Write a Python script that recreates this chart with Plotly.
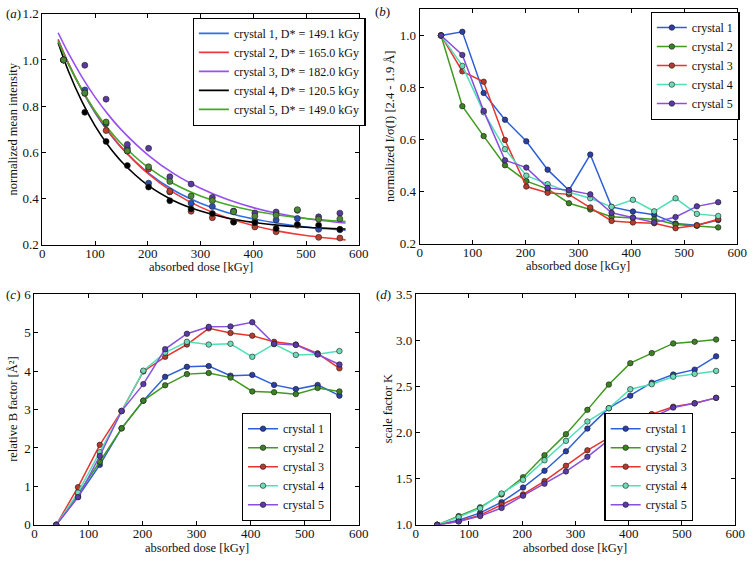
import plotly.graph_objects as go

W, H = 755, 564

# ---------------- data ----------------
dose = [40.3, 80.6, 120.9, 161.2, 201.5, 241.8, 282.1, 322.4, 362.7, 403.0, 443.3, 483.6, 523.9, 564.2]
crystals = ["crystal 1", "crystal 2", "crystal 3", "crystal 4", "crystal 5"]

# (a) normalized mean intensity (points)
int_c1 = [1.0, 0.870, 0.724, 0.617, 0.466, 0.428, 0.379, 0.365, 0.343, 0.300, 0.306, 0.313, 0.266, 0.264]
int_c2 = [1.0, 0.855, 0.694, 0.605, 0.527, 0.431, 0.344, 0.316, 0.300, 0.276, 0.255, 0.283, 0.231, 0.228]
int_c3 = [1.0, 0.977, 0.830, 0.634, 0.617, 0.494, 0.462, 0.404, 0.345, 0.337, 0.341, 0.348, 0.320, 0.336]
int_c4 = [1.0, 0.773, 0.647, 0.542, 0.449, 0.390, 0.354, 0.334, 0.297, 0.294, 0.269, 0.287, 0.284, 0.266]
int_c5 = [1.0, 0.857, 0.731, 0.606, 0.537, 0.473, 0.410, 0.390, 0.342, 0.323, 0.327, 0.351, 0.310, 0.311]

# (a) fitted decay curves
fit_dose = [30, 50, 75, 100, 125, 150, 200, 250, 300, 350, 400, 450, 500, 575]
fit_c1 = [1.090, 0.983, 0.869, 0.771, 0.689, 0.620, 0.512, 0.434, 0.379, 0.339, 0.311, 0.291, 0.276, 0.262]
fit_c2 = [1.085, 0.983, 0.871, 0.775, 0.692, 0.621, 0.508, 0.424, 0.362, 0.316, 0.282, 0.257, 0.239, 0.220]
fit_c3 = [1.118, 1.027, 0.927, 0.839, 0.763, 0.697, 0.589, 0.506, 0.444, 0.396, 0.360, 0.333, 0.313, 0.293]
fit_c4 = [1.075, 0.949, 0.820, 0.714, 0.629, 0.560, 0.457, 0.389, 0.345, 0.315, 0.296, 0.283, 0.275, 0.267]
fit_c5 = [1.080, 0.979, 0.871, 0.779, 0.702, 0.637, 0.535, 0.462, 0.410, 0.373, 0.346, 0.327, 0.313, 0.300]
dstar = ["149.1", "165.0", "182.0", "120.5", "149.0"]

# (b) normalized I/sigma(I)
isig_c1 = [1.0, 1.014, 0.779, 0.676, 0.593, 0.484, 0.405, 0.542, 0.341, 0.323, 0.311, 0.277, 0.270, 0.290]
isig_c2 = [1.0, 0.728, 0.613, 0.501, 0.440, 0.410, 0.355, 0.331, 0.303, 0.299, 0.293, 0.273, 0.268, 0.262]
isig_c3 = [1.0, 0.862, 0.822, 0.598, 0.419, 0.395, 0.389, 0.339, 0.287, 0.281, 0.278, 0.259, 0.270, 0.293]
isig_c4 = [1.0, 0.883, 0.705, 0.563, 0.461, 0.428, 0.397, 0.374, 0.341, 0.368, 0.324, 0.374, 0.314, 0.306]
isig_c5 = [1.0, 0.925, 0.710, 0.520, 0.492, 0.414, 0.405, 0.389, 0.318, 0.300, 0.281, 0.302, 0.343, 0.359]

# (c) relative B factor
bfac_c1 = [0.0, 0.73, 1.56, 2.51, 3.23, 3.85, 4.11, 4.13, 3.88, 3.90, 3.64, 3.53, 3.64, 3.36]
bfac_c2 = [0.0, 0.80, 1.64, 2.51, 3.23, 3.63, 3.92, 3.95, 3.83, 3.47, 3.45, 3.40, 3.56, 3.47]
bfac_c3 = [0.0, 0.98, 2.08, 2.96, 3.99, 4.37, 4.69, 5.11, 4.99, 4.92, 4.76, 4.69, 4.46, 4.07]
bfac_c4 = [0.0, 0.84, 1.89, 2.96, 4.01, 4.48, 4.76, 4.69, 4.71, 4.37, 4.70, 4.42, 4.44, 4.52]
bfac_c5 = [0.0, 0.72, 1.79, 2.96, 3.66, 4.57, 4.97, 5.15, 5.16, 5.27, 4.71, 4.68, 4.43, 4.17]

# (d) scale factor K
scale_c1 = [1.0, 1.050, 1.130, 1.246, 1.404, 1.586, 1.797, 2.043, 2.264, 2.400, 2.541, 2.629, 2.682, 2.826]
scale_c2 = [1.0, 1.095, 1.190, 1.330, 1.516, 1.755, 1.983, 2.246, 2.520, 2.752, 2.861, 2.966, 2.984, 3.008]
scale_c3 = [1.0, 1.040, 1.105, 1.218, 1.330, 1.474, 1.640, 1.808, 1.945, 2.085, 2.200, 2.280, 2.317, 2.376]
scale_c4 = [1.0, 1.085, 1.180, 1.340, 1.488, 1.700, 1.910, 2.120, 2.264, 2.470, 2.524, 2.605, 2.636, 2.668]
scale_c5 = [1.0, 1.035, 1.095, 1.183, 1.316, 1.446, 1.579, 1.737, 1.920, 2.032, 2.159, 2.271, 2.317, 2.376]

# ---------------- style ----------------
line_cols = ["#2f5fd8", "#3f9a1f", "#e8342c", "#4fe0b8", "#8a4fe0"]
mark_cols = ["#2a3fa8", "#3c8222", "#b83a2c", "#6fdcb8", "#5a3aa8"]
a_line = ["#2f6fe8", "#ee3a3a", "#9a4ff0", "#000000", "#46a82a"]
a_mark = ["#2a4fb0", "#b8402e", "#5a3aa0", "#000000", "#4a8a34"]

FONT = "Liberation Serif"
TXT = "#111111"

def px_dom_x(x0, x1):
    return [x0 / W, x1 / W]

def px_dom_y(y0, y1):
    return [1 - y1 / H, 1 - y0 / H]

fig = go.Figure()

pts_a = [int_c1, int_c2, int_c3, int_c4, int_c5]
fits_a = [fit_c1, fit_c2, fit_c3, fit_c4, fit_c5]
for i in range(5):
    fig.add_trace(go.Scatter(
        x=fit_dose, y=fits_a[i], mode="lines", line=dict(color=a_line[i], width=1.6, shape="spline"),
        name=f"crystal {i+1}, D* = {dstar[i]} kGy", xaxis="x", yaxis="y", legend="legend"))
for i in range(5):
    fig.add_trace(go.Scatter(
        x=dose, y=pts_a[i], mode="markers",
        marker=dict(color=a_mark[i], size=6, line=dict(color="#222222", width=0.6)),
        showlegend=False, xaxis="x", yaxis="y"))

def add_panel(series, xa, ya, leg):
    for i in range(5):
        fig.add_trace(go.Scatter(
            x=dose, y=series[i], mode="lines+markers",
            line=dict(color=line_cols[i], width=1.5),
            marker=dict(color=mark_cols[i], size=5.5, line=dict(color="#1a1a1a", width=0.6)),
            name=crystals[i], xaxis=xa, yaxis=ya, legend=leg))

add_panel([isig_c1, isig_c2, isig_c3, isig_c4, isig_c5], "x2", "y2", "legend2")
add_panel([bfac_c1, bfac_c2, bfac_c3, bfac_c4, bfac_c5], "x3", "y3", "legend3")
add_panel([scale_c1, scale_c2, scale_c3, scale_c4, scale_c5], "x4", "y4", "legend4")

tickfont = dict(family=FONT, size=13, color=TXT)

def xax(dom, anchor):
    return dict(domain=dom, anchor=anchor, range=[0, 600], tickvals=[0, 100, 200, 300, 400, 500, 600],
                ticks="inside", ticklen=4, tickcolor="#000", showline=True, linecolor="#000", linewidth=1,
                mirror="ticks", showgrid=False, zeroline=False, tickfont=tickfont,
                ticklabelstandoff=-3)

def yax(dom, anchor, rng, tv, fmt):
    return dict(domain=dom, anchor=anchor, range=rng, tickvals=tv, tickformat=fmt,
                ticks="inside", ticklen=4, tickcolor="#000", showline=True, linecolor="#000", linewidth=1,
                mirror="ticks", showgrid=False, zeroline=False, tickfont=tickfont,
                ticklabelstandoff=0)

dA = (px_dom_x(40, 362), px_dom_y(7, 244))
dB = (px_dom_x(424, 747), px_dom_y(2.5, 243))
dC = (px_dom_x(32, 362), px_dom_y(295, 532))
dD = (px_dom_x(420, 745), px_dom_y(295, 532))

def legend_box(x0, y0, anchor="top"):
    return dict(x=x0 / W, y=1 - y0 / H, xanchor="left", yanchor=anchor,
                bgcolor="white", bordercolor="#000", borderwidth=1.2,
                font=dict(family=FONT, size=12, color=TXT),
                tracegroupgap=0, itemwidth=30)

fig.update_layout(
    width=W, height=H, margin=dict(l=0, r=0, t=0, b=0),
    paper_bgcolor="white", plot_bgcolor="white",
    xaxis=xax(dA[0], "y"), yaxis=yax(dA[1], "x", [0.2, 1.2], [0.2, 0.4, 0.6, 0.8, 1.0, 1.2], ".1f"),
    xaxis2=xax(dB[0], "y2"), yaxis2=yax(dB[1], "x2", [0.2, 1.1], [0.2, 0.4, 0.6, 0.8, 1.0], ".1f"),
    xaxis3=xax(dC[0], "y3"), yaxis3=yax(dC[1], "x3", [0, 6], [0, 1, 2, 3, 4, 5, 6], "d"),
    xaxis4=xax(dD[0], "y4"), yaxis4=yax(dD[1], "x4", [1.0, 3.5], [1.0, 1.5, 2.0, 2.5, 3.0, 3.5], ".1f"),
    legend=legend_box(193, 11),
    legend2=legend_box(659, 5),
    legend3=legend_box(243, 528, "bottom"),
    legend4=legend_box(612, 528, "bottom"),
    showlegend=True,
)

def ann(text, x, y, angle=0, xanchor="center", size=12.5):
    fig.add_annotation(text=text, x=x / W, y=1 - y / H, xref="paper", yref="paper",
                       xanchor=xanchor, yanchor="middle", showarrow=False, textangle=angle,
                       font=dict(family=FONT, size=size, color=TXT))

# panel labels
ann("(<i>a</i>)", 1, 7, xanchor="left", size=13)
ann("(<i>b</i>)", 376, 5, xanchor="left", size=13)
ann("(<i>c</i>)", 1, 295, xanchor="left", size=13)
ann("(<i>d</i>)", 378, 295, xanchor="left", size=13)

# axis titles
ann("absorbed dose [kGy]", 201, 267)
ann("absorbed dose [kGy]", 585, 266)
ann("absorbed dose [kGy]", 197, 556)
ann("absorbed dose [kGy]", 582, 556)
ann("normalized mean intensity", 10, 125, angle=-90)
ann("normalized I/σ(I) [2.4 - 1.9 Å]", 394, 123, angle=-90)
ann("relative B factor [Å²]", 10, 413, angle=-90)
ann("scale factor K", 392, 413, angle=-90)

fig.write_html("out.html", config={"displayModeBar": False},
               post_script="document.body.style.margin='0';document.body.style.overflow='hidden';")
